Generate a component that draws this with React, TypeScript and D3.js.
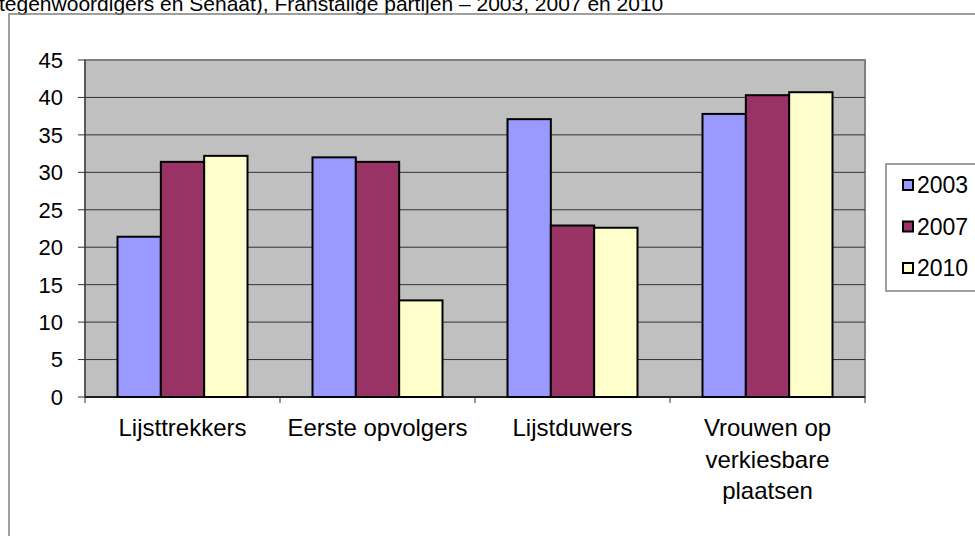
import * as d3 from "d3";
import React from "react";

const categories = [
  ["Lijsttrekkers"],
  ["Eerste opvolgers"],
  ["Lijstduwers"],
  ["Vrouwen op", "verkiesbare", "plaatsen"],
];
const years = ["2003", "2007", "2010"];
const values2003 = [21.4, 32.0, 37.1, 37.8];
const values2007 = [31.4, 31.4, 22.9, 40.3];
const values2010 = [32.2, 12.9, 22.6, 40.7];
const yTicks = [0, 5, 10, 15, 20, 25, 30, 35, 40, 45];
const colors = ["#9999FF", "#993366", "#FFFFCC"];

const W = 975;
const H = 536;
const font = "'Liberation Sans', Arial, sans-serif";

export default function App() {
  const plot = { left: 85, right: 865, top: 60, bottom: 397 };
  const series = [values2003, values2007, values2010];

  const x = d3
    .scaleBand<number>()
    .domain(d3.range(categories.length))
    .range([plot.left, plot.right]);
  // excel style gap width 150%
  const inner = d3
    .scaleBand<number>()
    .domain(d3.range(years.length))
    .range([0, x.bandwidth()])
    .paddingOuter(0.75)
    .paddingInner(0);
  const y = d3.scaleLinear().domain([0, 45]).range([plot.bottom, plot.top]);

  return (
    <svg
      width={W}
      height={H}
      style={{ position: "absolute", left: 0, top: 0, background: "#fff" }}
    >
      {/* title, cut off at the top like the source */}
      <text x={-1} y={11} fontFamily={font} fontSize={21} fill="#000">
        tegenwoordigers en Senaat), Franstalige partijen – 2003, 2007 en 2010
      </text>

      {/* chart frame */}
      <rect x={9} y={14} width={W + 20} height={H + 20} fill="none" stroke="#808080" strokeWidth={1.5} />

      {/* plot area */}
      <rect
        x={plot.left}
        y={plot.top}
        width={plot.right - plot.left}
        height={plot.bottom - plot.top}
        fill="#C0C0C0"
        stroke="#808080"
        strokeWidth={2}
      />
      {yTicks.map((t) => (
        <g key={t}>
          {t > 0 && t < 45 && (
            <line x1={plot.left} x2={plot.right} y1={y(t)} y2={y(t)} stroke="#333" strokeWidth={1} />
          )}
          <line x1={plot.left - 7} x2={plot.left} y1={y(t)} y2={y(t)} stroke="#333" strokeWidth={1} />
          <text
            x={plot.left - 22}
            y={y(t)}
            dy="0.36em"
            textAnchor="end"
            fontFamily={font}
            fontSize={22}
          >
            {t}
          </text>
        </g>
      ))}
      <line x1={plot.left} x2={plot.left} y1={plot.top} y2={plot.bottom} stroke="#333" strokeWidth={1} />

      {/* bars */}
      {series.map((vals, s) =>
        vals.map((v, i) => (
          <rect
            key={`${s}-${i}`}
            x={x(i)! + inner(s)!}
            y={y(v)}
            width={inner.bandwidth()}
            height={y(0) - y(v)}
            fill={colors[s]}
            stroke="#000"
            strokeWidth={2}
          />
        ))
      )}

      {/* x axis */}
      <line x1={plot.left} x2={plot.right} y1={plot.bottom} y2={plot.bottom} stroke="#000" strokeWidth={1.5} />
      {d3.range(categories.length + 1).map((i) => {
        const xx = plot.left + i * x.step();
        return <line key={i} x1={xx} x2={xx} y1={plot.bottom} y2={plot.bottom + 6} stroke="#333" />;
      })}
      {categories.map((lines, i) => (
        <text
          key={i}
          x={x(i)! + x.bandwidth() / 2}
          y={436}
          textAnchor="middle"
          fontFamily={font}
          fontSize={24}
        >
          {lines.map((l, k) => (
            <tspan key={k} x={x(i)! + x.bandwidth() / 2} dy={k === 0 ? 0 : 31.5}>
              {l}
            </tspan>
          ))}
        </text>
      ))}

      {/* legend */}
      <rect x={886} y={164} width={120} height={127} fill="#fff" stroke="#808080" strokeWidth={1.5} />
      {years.map((yr, i) => (
        <g key={yr} transform={`translate(0, ${185 + i * 41.5})`}>
          <rect x={903} y={-5} width={10} height={10} fill={colors[i]} stroke="#000" strokeWidth={2} />
          <text x={917} y={0} dy="0.36em" fontFamily={font} fontSize={23}>
            {yr}
          </text>
        </g>
      ))}
    </svg>
  );
}
